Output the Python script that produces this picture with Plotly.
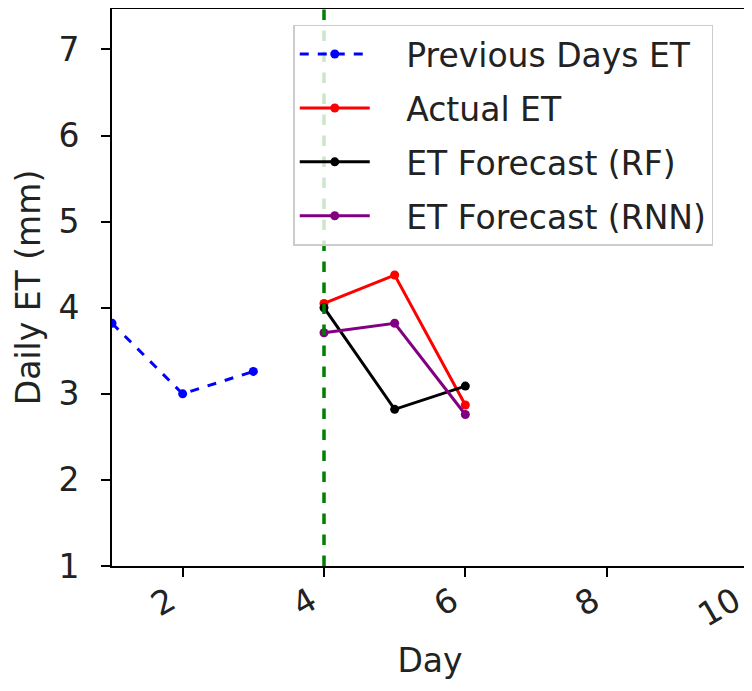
import plotly.graph_objects as go

prev_days = [1, 2, 3]
prev_et = [3.82, 3.0, 3.26]
fc_days = [4, 5, 6]
actual_et = [4.05, 4.38, 2.87]
rf_et = [4.0, 2.82, 3.09]
rnn_et = [3.71, 3.82, 2.76]
split_day = 4
x_ticks = [2, 4, 6, 8, 10]
y_ticks = [1, 2, 3, 4, 5, 6, 7]
series_names = ["Previous Days ET", "Actual ET", "ET Forecast (RF)", "ET Forecast (RNN)"]

FONT = "DejaVu Sans"
FS = 33
PAD = "\u00a0\u00a0\u00a0"

fig = go.Figure()
fig.add_trace(go.Scatter(x=prev_days, y=prev_et, mode="lines+markers", name=PAD + series_names[0],
                         legendgroup="a",
                         line=dict(color="blue", dash="dash", width=3), marker=dict(size=9, color="blue")))
fig.add_trace(go.Scatter(x=fc_days, y=actual_et, mode="lines+markers", name=PAD + series_names[1],
                         legendgroup="b",
                         line=dict(color="red", width=3), marker=dict(size=9, color="red")))
fig.add_trace(go.Scatter(x=fc_days, y=rf_et, mode="lines+markers", name=PAD + series_names[2],
                         legendgroup="c",
                         line=dict(color="black", width=3), marker=dict(size=9, color="black")))
fig.add_trace(go.Scatter(x=fc_days, y=rnn_et, mode="lines+markers", name=PAD + series_names[3],
                         legendgroup="d",
                         line=dict(color="purple", width=3), marker=dict(size=9, color="purple")))

fig.add_vline(x=split_day, line=dict(color="green", dash="dash", width=3.5))

axis_common = dict(showline=True, linecolor="black", linewidth=2, mirror=True,
                   ticks="outside", ticklen=9, tickwidth=1.5, tickcolor="black",
                   showgrid=False, zeroline=False, automargin=False,
                   ticklabeloverflow="allow",
                   tickfont=dict(family=FONT, size=FS, color="#222"),
                   title_font=dict(family=FONT, size=FS, color="#222"))

fig.update_xaxes(range=[1, 10], tickvals=x_ticks, ticktext=[str(v) for v in x_ticks],
                 tickangle=-30, ticklabelshift=-13, ticklabelstandoff=-8,
                 title_text="Day", title_standoff=16, **axis_common)
fig.update_yaxes(range=[1, 7.47], tickvals=y_ticks, ticklabelstandoff=15,
                 title_text="Daily ET (mm)", title_standoff=8, **axis_common)

fig.update_layout(
    template="none",
    width=752, height=691,
    margin=dict(l=104, r=12, t=1, b=133),
    plot_bgcolor="white", paper_bgcolor="white",
    showlegend=True,
    legend=dict(x=0.285, y=0.972, xanchor="left", yanchor="top",
                bgcolor="rgba(255,255,255,0.8)", bordercolor="#cccccc", borderwidth=1.5,
                font=dict(family=FONT, size=FS, color="#222"),
                itemwidth=70, tracegroupgap=8),
)

fig.write_html("out.html")
